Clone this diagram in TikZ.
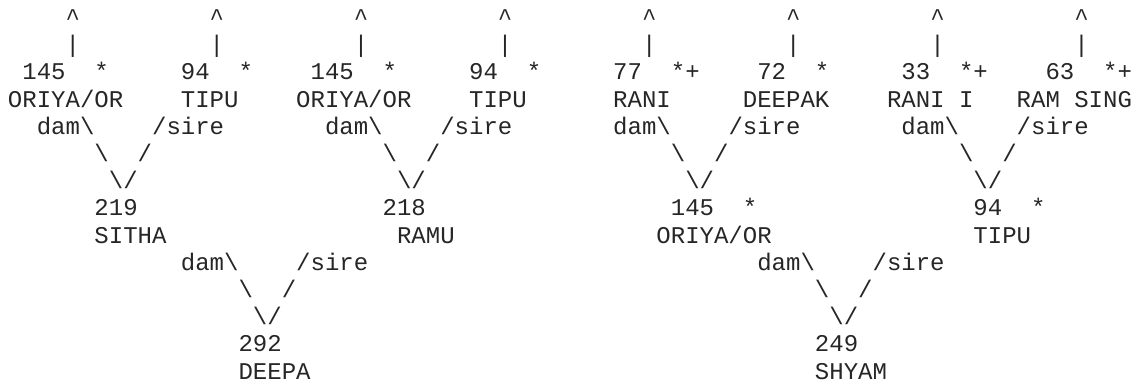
\documentclass[tikz,border=0pt]{standalone}
\usepackage{fontspec}
\newfontfamily\asciimono{Liberation Mono}
\tikzset{
  txt/.style={font=\asciimono\fontsize{24}{24}\selectfont, inner sep=0pt, outer sep=0pt, anchor=base west, text=black!85},
}
% #1 name, #2 column, #3 row, #4 text
\newcommand\tk[4]{\node[txt] (#1) at ({8+14.41*#2},{25.5+27.2*#3}) {#4};}
\newcommand\bs{\textbackslash}
\begin{document}
\begin{tikzpicture}[x=1pt,y=-1pt]
\useasboundingbox (0,0) rectangle (1139,385);
% row 0 and 1: arrows up from the eight ancestors
\tk{upA}{4}{0}{\textasciicircum}
\tk{upB}{14}{0}{\textasciicircum}
\tk{upC}{24}{0}{\textasciicircum}
\tk{upD}{34}{0}{\textasciicircum}
\tk{upE}{44}{0}{\textasciicircum}
\tk{upF}{54}{0}{\textasciicircum}
\tk{upG}{64}{0}{\textasciicircum}
\tk{upH}{74}{0}{\textasciicircum}
\tk{barA}{4}{1}{\textbar}
\tk{barB}{14}{1}{\textbar}
\tk{barC}{24}{1}{\textbar}
\tk{barD}{34}{1}{\textbar}
\tk{barE}{44}{1}{\textbar}
\tk{barF}{54}{1}{\textbar}
\tk{barG}{64}{1}{\textbar}
\tk{barH}{74}{1}{\textbar}
% row 2: ids and flags
\tk{idA}{1}{2}{145}   \tk{flA}{6}{2}{*}
\tk{idB}{12}{2}{94}   \tk{flB}{16}{2}{*}
\tk{idC}{21}{2}{145}  \tk{flC}{26}{2}{*}
\tk{idD}{32}{2}{94}   \tk{flD}{36}{2}{*}
\tk{idE}{42}{2}{77}   \tk{flE}{46}{2}{*+}
\tk{idF}{52}{2}{72}   \tk{flF}{56}{2}{*}
\tk{idG}{62}{2}{33}   \tk{flG}{66}{2}{*+}
\tk{idH}{72}{2}{63}   \tk{flH}{76}{2}{*+}
% row 3: names
\tk{nmA}{0}{3}{ORIYA/OR}
\tk{nmB}{12}{3}{TIPU}
\tk{nmC}{20}{3}{ORIYA/OR}
\tk{nmD}{32}{3}{TIPU}
\tk{nmE}{42}{3}{RANI}
\tk{nmF}{51}{3}{DEEPAK}
\tk{nmG}{61}{3}{RANI I}
\tk{nmH}{70}{3}{RAM SING}
% row 4: dam / sire labels
\tk{damA}{2}{4}{dam\bs}   \tk{sireA}{10}{4}{/sire}
\tk{damB}{22}{4}{dam\bs}  \tk{sireB}{30}{4}{/sire}
\tk{damC}{42}{4}{dam\bs}  \tk{sireC}{50}{4}{/sire}
\tk{damD}{62}{4}{dam\bs}  \tk{sireD}{70}{4}{/sire}
% row 5 and 6: the V joints
\tk{vlA}{6}{5}{\bs}   \tk{vrA}{9}{5}{/}
\tk{vlB}{26}{5}{\bs}  \tk{vrB}{29}{5}{/}
\tk{vlC}{46}{5}{\bs}  \tk{vrC}{49}{5}{/}
\tk{vlD}{66}{5}{\bs}  \tk{vrD}{69}{5}{/}
\tk{vA}{7}{6}{\bs/}
\tk{vB}{27}{6}{\bs/}
\tk{vC}{47}{6}{\bs/}
\tk{vD}{67}{6}{\bs/}
% row 7 and 8: parents
\tk{pidA}{6}{7}{219}
\tk{pidB}{26}{7}{218}
\tk{pidC}{46}{7}{145}  \tk{pflC}{51}{7}{*}
\tk{pidD}{67}{7}{94}   \tk{pflD}{71}{7}{*}
\tk{pnmA}{6}{8}{SITHA}
\tk{pnmB}{27}{8}{RAMU}
\tk{pnmC}{45}{8}{ORIYA/OR}
\tk{pnmD}{67}{8}{TIPU}
% row 9 to 11: lower joints
\tk{pdamA}{12}{9}{dam\bs}  \tk{psireA}{20}{9}{/sire}
\tk{pdamB}{52}{9}{dam\bs}  \tk{psireB}{60}{9}{/sire}
\tk{pvlA}{16}{10}{\bs}  \tk{pvrA}{19}{10}{/}
\tk{pvlB}{56}{10}{\bs}  \tk{pvrB}{59}{10}{/}
\tk{pvA}{17}{11}{\bs/}
\tk{pvB}{57}{11}{\bs/}
% row 12 and 13: the two animals
\tk{cidA}{16}{12}{292}
\tk{cidB}{56}{12}{249}
\tk{cnmA}{16}{13}{DEEPA}
\tk{cnmB}{56}{13}{SHYAM}
\end{tikzpicture}
\end{document}
